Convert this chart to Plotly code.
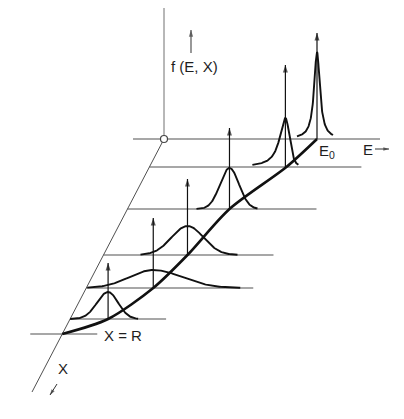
import numpy as np
import plotly.graph_objects as go

# ---------------- data (model coords: E along energy, X depth, f height) ----------------
row_X      = [0, 28, 70, 116, 149, 180]          # depth positions of the distributions
peak_E     = [153, 136, 102, 84, 67, 38]         # energy of the peak maximum
peak_f     = [87, 49, 41, 29, 18, 27]            # peak heights
arrow_f    = [109, 105, 84, 79, 73, 59]          # delta-arrow heights
hwhm_left  = [3.5, 7.0, 11.2, 18.8, 28.0, 13.0]  # half widths (left side)
hwhm_right = [3.5, 5.0, 11.2, 18.8, 34.0, 11.8]  # half widths (right side)
lor_left   = [1.0, 1.0, 0.0, 0.0, 0.0, 0.0]      # Lorentzian fraction (left)
lor_right  = [1.0, 0.3, 0.0, 0.0, 0.0, 0.0]      # Lorentzian fraction (right)
tail_left  = [20, 33, 33, 47, 66, 38]            # extent of drawn tails
tail_right = [16, 13, 28, 50, 87, 30]

base_X  = [0, 28, 70, 116, 149, 180, 195]        # baselines (last one: X = R)
base_E0 = [-31, 0, 0, 0, 0, 0, -32]
base_E1 = [216, 212, 189, 170, 167, 96, 35]

traj_X = [0, 28, 70, 116, 149, 180, 195]         # mean-energy trajectory
traj_E = [153, 137, 102, 84, 67, 38, 0]

axis_f_top = 131
axis_X_end = 253

# ---------------- projection ----------------
OX, OY = 164, 139
SLOPE = 132 / 253


def proj(E, X, f=0):
    E = np.asarray(E, float)
    X = np.asarray(X, float)
    f = np.asarray(f, float)
    return OX + E - SLOPE * X, OY + X - f


def half(d, w, eta):
    return eta / (1 + (d / w) ** 2) + (1 - eta) * np.exp(-np.log(2) * (d / w) ** 2)


fig = go.Figure()
GRAY = "#505050"
INK = "#111111"


def arrow(x0, y0, x1, y1, color=INK, width=1.2, head=8):
    fig.add_trace(go.Scatter(x=[x0, x1], y=[y0, y1], mode="lines",
                             line=dict(color=color, width=width)))
    fig.add_trace(go.Scatter(x=[x0, x1], y=[y0, y1], mode="markers",
                             marker=dict(symbol="arrow", size=[0, head], color=color,
                                         angleref="previous", line=dict(width=0))))


# baselines
for X, e0, e1 in zip(base_X, base_E0, base_E1):
    x, y = proj([e0, e1], [X, X])
    fig.add_trace(go.Scatter(x=x, y=y, mode="lines",
                             line=dict(color=GRAY, width=1.2)))

# vertical f axis
x, y = proj([0, 0], [0, 0], [0, axis_f_top])
fig.add_trace(go.Scatter(x=x, y=y, mode="lines", line=dict(color="#707070", width=1)))
# X axis (oblique)
x, y = proj([0, 0], [0, axis_X_end])
fig.add_trace(go.Scatter(x=x, y=y, mode="lines", line=dict(color=GRAY, width=1)))

# trajectory
x, y = proj(traj_E, traj_X)
fig.add_trace(go.Scatter(x=x, y=y, mode="lines",
                         line=dict(color=INK, width=2.6, shape="spline", smoothing=0.8)))

# peaks
for i in range(len(row_X)):
    c = peak_E[i]
    EL = np.linspace(c - tail_left[i], c, 80)
    ER = np.linspace(c, c + tail_right[i], 80)
    fL = peak_f[i] * half(EL - c, hwhm_left[i], lor_left[i])
    fR = peak_f[i] * half(ER - c, hwhm_right[i], lor_right[i])
    E = np.concatenate([EL, ER[1:]])
    f = np.concatenate([fL, fR[1:]])
    x, y = proj(E, np.full_like(E, row_X[i]), f)
    fig.add_trace(go.Scatter(x=x, y=y, mode="lines", line=dict(color=INK, width=1.9)))

# delta arrows
for i in range(len(row_X)):
    xb, yb = proj(peak_E[i], row_X[i], 0)
    xt, yt = proj(peak_E[i], row_X[i], arrow_f[i] - 3)
    arrow(float(xb), float(yb), float(xt), float(yt))

# origin circle
x, y = proj([0], [0])
fig.add_trace(go.Scatter(x=x, y=y, mode="markers",
                         marker=dict(symbol="circle", size=7, color="white",
                                     line=dict(color="#444", width=1.2))))

FONT = dict(family="Liberation Sans, Arial, sans-serif", size=15, color="#1e1e1e")

# labels
fig.add_annotation(x=194, y=66, text="f (E, X)", showarrow=False, font=FONT,
                   xref="x", yref="y")
arrow(191, 53, 191, 30, color="#444", width=1.1, head=7)
fig.add_annotation(x=327, y=151, text="E<sub>0</sub>", showarrow=False, font=FONT,
                   xref="x", yref="y")
fig.add_annotation(x=368, y=149, text="E", showarrow=False, font=FONT, xref="x", yref="y")
arrow(375, 149, 389, 149, color="#333", width=1.0, head=6)
fig.add_annotation(x=123, y=335, text="X = R", showarrow=False, font=FONT,
                   xref="x", yref="y")
fig.add_annotation(x=63, y=368, text="X", showarrow=False, font=FONT, xref="x", yref="y")
arrow(57, 384, 50, 395, color="#333", width=1.0, head=6)

fig.update_xaxes(range=[0, 404], visible=False, fixedrange=True)
fig.update_yaxes(range=[419, 0], visible=False, fixedrange=True)
fig.update_layout(width=404, height=419, margin=dict(l=0, r=0, t=0, b=0),
                  plot_bgcolor="white", paper_bgcolor="white", showlegend=False,
                  hovermode=False)

fig.write_html("out.html", config={"displayModeBar": False},
               post_script="document.body.style.margin='0';")
